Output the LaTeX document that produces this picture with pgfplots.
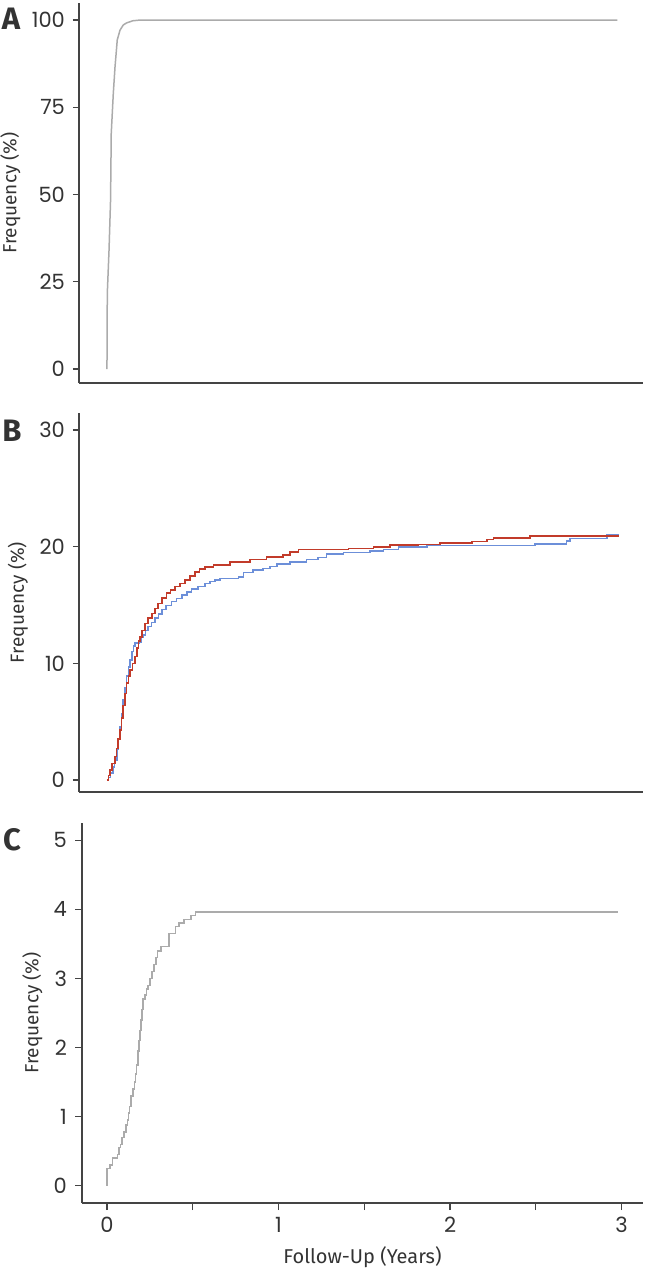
\documentclass[border=0pt]{standalone}
\usepackage{fontspec}
\setmainfont{Fira Sans}
\newfontfamily\tickfont{Poppins}
\usepackage{pgfplots}
\pgfplotsset{compat=1.18}

\definecolor{axgray}{HTML}{444444}
\definecolor{txtgray}{HTML}{333333}
\definecolor{curvegray}{HTML}{ABABAB}
\definecolor{curvered}{HTML}{C23B2A}
\definecolor{curveblue}{HTML}{6C8FD9}

\pgfplotsset{
  panel/.style={
    scale only axis,
    width=282pt, height=190pt,
    xmin=-0.163, xmax=3.125,
    axis x line*=bottom, axis y line*=left,
    axis line style={axgray, line width=0.65pt},
    tick style={axgray, line width=0.6pt},
    tick align=outside,
    major tick length=3pt,
    xtick=\empty,
    /pgf/number format/assume math mode=true,
    tick label style={font=\tickfont\fontsize{10.5}{12}\selectfont, text=txtgray},
    yticklabel style={xshift=-0.5pt},
    ylabel={Frequency (\%)},
    ylabel style={font=\fontsize{9.5}{11}\selectfont, text=txtgray, yshift=-1.2pt},
    clip=false,
  },
}
\tikzset{letter/.style={font=\fontsize{15.5}{17}\selectfont\bfseries, text=txtgray}}

\begin{document}
\begin{tikzpicture}
\useasboundingbox (-39.5pt,-443pt) rectangle (283.5pt,191.5pt);

% Panel A
\begin{axis}[panel, name=pa, at={(0pt,0pt)}, anchor=south west,
  ymin=-4, ymax=104.9, ytick={0,25,50,75,100}]
\addplot[curvegray, line width=0.75pt] coordinates {
(0,0) (0.002,21.7) (0.012,34) (0.021,48.4) (0.025,67.5) (0.037,79)
(0.047,86.6) (0.06,94.3) (0.076,97.1) (0.095,98.6) (0.115,99.2) (0.15,99.8)
(0.19,100) (2.976,100)};
\end{axis}
\node[letter] at ([xshift=-34pt,yshift=-8pt]pa.north west) {A};

% Panel B
\begin{axis}[panel, name=pb, at={(0pt,-204.5pt)}, anchor=south west,
  height=189.5pt, ymin=-1.03, ymax=31.46, ytick={0,10,20,30}]
\addplot[const plot, curveblue, line width=0.8pt] coordinates {
(0,0) (0.01,0.2) (0.02,0.6) (0.035,1.1) (0.045,1.7) (0.057,2.6) (0.066,3.5)
(0.076,4.6) (0.085,5.7) (0.095,6.9) (0.105,7.9) (0.115,8.9) (0.125,9.7)
(0.134,10.3) (0.145,11.0) (0.155,11.5) (0.165,11.75) (0.190,11.85)
(0.200,12.2) (0.212,12.45) (0.225,12.8) (0.241,13.15) (0.260,13.5)
(0.280,13.9) (0.300,14.25) (0.320,14.6) (0.345,14.95) (0.377,15.3)
(0.405,15.55) (0.436,15.85) (0.465,16.1) (0.494,16.35) (0.53,16.6)
(0.571,16.85) (0.60,17.0) (0.63,17.14) (0.659,17.28) (0.766,17.42)
(0.795,17.77) (0.853,18.0) (0.911,18.14) (0.95,18.3) (0.99,18.51)
(1.067,18.71) (1.164,18.91) (1.232,19.08) (1.281,19.37) (1.378,19.51)
(1.534,19.65) (1.611,19.77) (1.699,19.99) (1.864,20.11) (2.496,20.25)
(2.68,20.48) (2.70,20.71) (2.914,21.05) (2.987,21.05)};
\addplot[const plot, curvered, line width=0.8pt] coordinates {
(0,0) (0.01,0.4) (0.017,0.86) (0.03,1.4) (0.047,2.0) (0.055,2.7) (0.065,3.5)
(0.076,4.3) (0.085,5.3) (0.095,6.4) (0.105,7.4) (0.115,8.3) (0.125,8.9)
(0.134,9.43) (0.150,10.0) (0.163,10.57) (0.175,11.3) (0.185,11.9)
(0.192,12.28) (0.205,12.8) (0.222,13.43) (0.240,13.9) (0.261,14.28)
(0.280,14.7) (0.299,15.14) (0.320,15.6) (0.348,16.05) (0.370,16.3)
(0.397,16.57) (0.425,16.85) (0.455,17.14) (0.485,17.5) (0.513,17.85)
(0.540,18.1) (0.571,18.28) (0.62,18.42) (0.717,18.71) (0.834,18.91)
(0.931,19.14) (1.028,19.28) (1.067,19.57) (1.116,19.77) (1.407,19.85)
(1.553,19.99) (1.65,20.14) (1.815,20.2) (1.942,20.31) (2.127,20.45)
(2.214,20.63) (2.253,20.74) (2.467,20.91) (2.987,20.91)};
\end{axis}
\node[letter] at ([xshift=-33.5pt,yshift=-9pt]pb.north west) {B};

% Panel C
\begin{axis}[panel, name=pc, at={(1.5pt,-410pt)}, anchor=south west,
  width=280.5pt, xmin=-0.146, ymin=-0.25, ymax=5.25, ytick={0,1,2,3,4,5},
  xtick={0,0.5,1,1.5,2,2.5,3}, xticklabels={0,,1,,2,,3},
  major tick length=3.5pt,
  xlabel={Follow-Up (Years)},
  xlabel style={font=\fontsize{10}{11}\selectfont, text=txtgray}]
\addplot[const plot, curvegray, line width=0.75pt] coordinates {
(0,0) (0,0.25) (0.018,0.30) (0.032,0.40) (0.060,0.45) (0.070,0.55)
(0.078,0.60) (0.088,0.70) (0.100,0.78) (0.110,0.88) (0.118,0.95)
(0.125,1.05) (0.132,1.15) (0.140,1.30) (0.150,1.40) (0.160,1.50)
(0.166,1.62) (0.172,1.75) (0.180,1.95) (0.186,2.10) (0.192,2.25)
(0.198,2.40) (0.205,2.55) (0.210,2.70) (0.220,2.76) (0.230,2.85)
(0.240,2.90) (0.250,3.00) (0.262,3.10) (0.275,3.20) (0.285,3.30)
(0.295,3.40) (0.315,3.46) (0.360,3.65) (0.400,3.75) (0.420,3.80)
(0.450,3.85) (0.490,3.91) (0.515,3.96) (2.98,3.96)};
\end{axis}
\node[letter] at ([xshift=-35pt,yshift=-8.5pt]pc.north west) {C};
\end{tikzpicture}
\end{document}
